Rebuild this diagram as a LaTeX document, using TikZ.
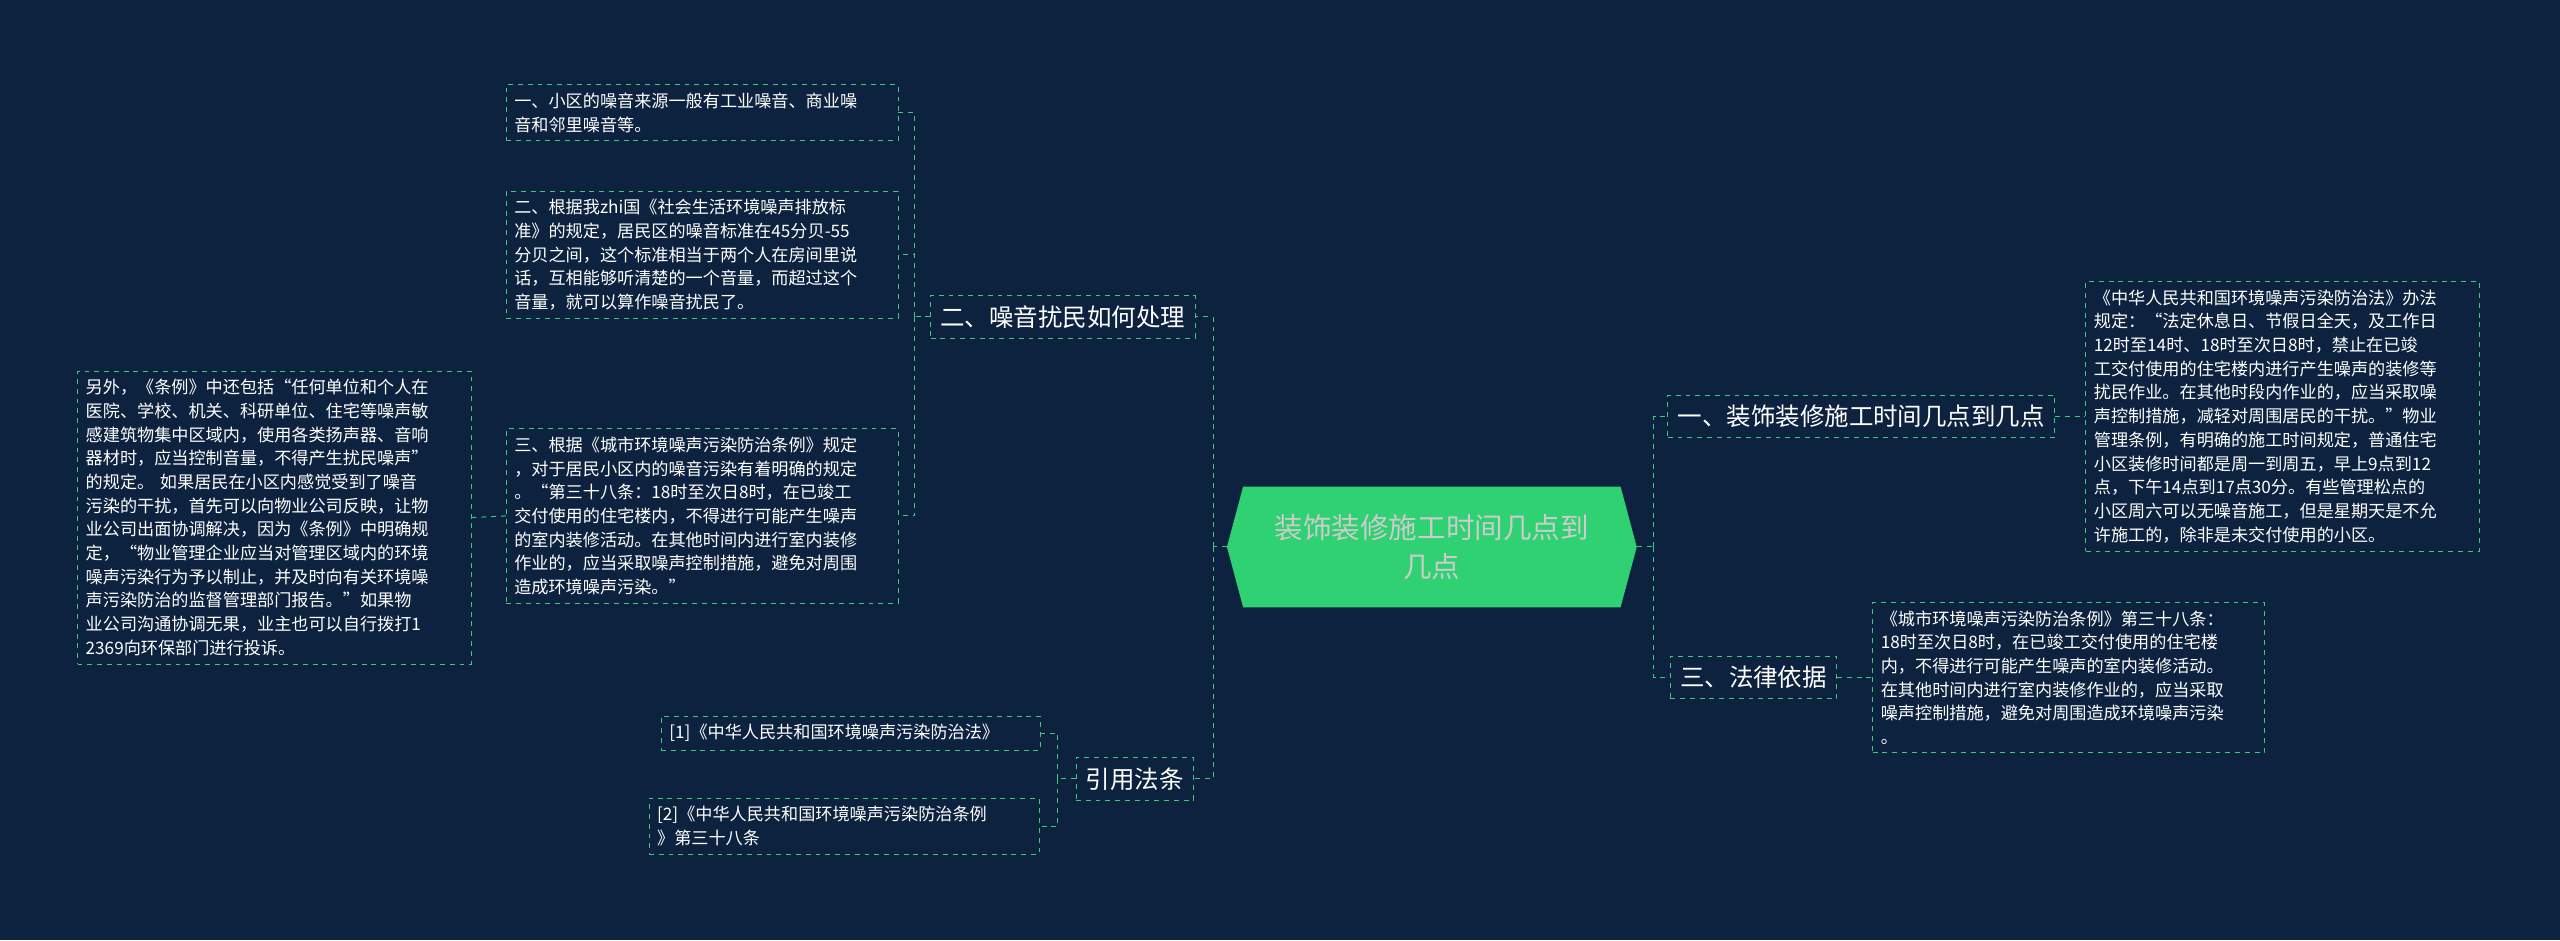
\documentclass[tikz,border=0pt]{standalone}
\usepackage{fontspec}
\setmainfont{Noto Sans CJK SC}
\usetikzlibrary{shapes.symbols,positioning}
\definecolor{bgblue}{HTML}{0C223F}
\definecolor{linegreen}{HTML}{3CC978}
\definecolor{rootgreen}{HTML}{2FD172}
\begin{document}
\begin{tikzpicture}[x=1pt,y=-1pt,
   leaf/.style={draw=linegreen, dashed, text=white, align=left, inner sep=5pt,
     font=\fontsize{10.5}{14.5}\selectfont},
   branch/.style={draw=linegreen, dashed, text=white, inner sep=6pt,
     font=\fontsize{15}{18}\selectfont},
   link/.style={draw=linegreen, dashed, semithick}]
  \fill[bgblue] (0,0) rectangle (1568,576);
  \node[signal, signal to=west and east, signal pointer angle=150, fill=rootgreen,
    minimum width=251pt, minimum height=74pt, align=center, text=white!80!black,
    font=\fontsize{17.5}{24}\selectfont] (root) at (877,335)
    {装饰装修施工时间几点到\\几点};
  % left side
  \node[branch] (noise) at (651,194) {二、噪音扰民如何处理};
  \node[branch] (laws) at (695,477) {引用法条};
  \node[leaf, text width=230pt] (n1) at (430,69)
    {一、小区的噪音来源一般有工业噪音、商业噪\\音和邻里噪音等。};
  \node[leaf, text width=230pt] (n2) at (430,156)
    {二、根据我zhi国《社会生活环境噪声排放标\\准》的规定，居民区的噪音标准在45分贝-55\\分贝之间，这个标准相当于两个人在房间里说\\话，互相能够听清楚的一个音量，而超过这个\\音量，就可以算作噪音扰民了。};
  \node[leaf, text width=230pt] (n3) at (430,316)
    {三、根据《城市环境噪声污染防治条例》规定\\，对于居民小区内的噪音污染有着明确的规定\\。“第三十八条：18时至次日8时，在已竣工\\交付使用的住宅楼内，不得进行可能产生噪声\\的室内装修活动。在其他时间内进行室内装修\\作业的，应当采取噪声控制措施，避免对周围\\造成环境噪声污染。”};
  \node[leaf, text width=231pt] (n3a) at (168,317)
    {另外，《条例》中还包括“任何单位和个人在\\医院、学校、机关、科研单位、住宅等噪声敏\\感建筑物集中区域内，使用各类扬声器、音响\\器材时，应当控制音量，不得产生扰民噪声”\\的规定。 如果居民在小区内感觉受到了噪音\\污染的干扰，首先可以向物业公司反映，让物\\业公司出面协调解决，因为《条例》中明确规\\定，“物业管理企业应当对管理区域内的环境\\噪声污染行为予以制止，并及时向有关环境噪\\声污染防治的监督管理部门报告。”如果物\\业公司沟通协调无果，业主也可以自行拨打1\\2369向环保部门进行投诉。};
  \node[leaf, text width=222pt] (r1) at (521,449) {[1]《中华人民共和国环境噪声污染防治法》};
  \node[leaf, text width=229pt] (r2) at (517,506)
    {[2]《中华人民共和国环境噪声污染防治条例\\》第三十八条};
  % right side
  \node[branch] (time) at (1140,255) {一、装饰装修施工时间几点到几点};
  \node[branch] (basis) at (1074,415) {三、法律依据};
  \node[leaf, text width=231pt] (t1) at (1398,255)
    {《中华人民共和国环境噪声污染防治法》办法\\规定：“法定休息日、节假日全天，及工作日\\12时至14时、18时至次日8时，禁止在已竣\\工交付使用的住宅楼内进行产生噪声的装修等\\扰民作业。在其他时段内作业的，应当采取噪\\声控制措施，减轻对周围居民的干扰。”物业\\管理条例，有明确的施工时间规定，普通住宅\\小区装修时间都是周一到周五，早上9点到12\\点，下午14点到17点30分。有些管理松点的\\小区周六可以无噪音施工，但是星期天是不允\\许施工的，除非是未交付使用的小区。};
  \node[leaf, text width=230pt] (b1) at (1267,415)
    {《城市环境噪声污染防治条例》第三十八条：\\18时至次日8时，在已竣工交付使用的住宅楼\\内，不得进行可能产生噪声的室内装修活动。\\在其他时间内进行室内装修作业的，应当采取\\噪声控制措施，避免对周围造成环境噪声污染\\。};
  % connectors
  \coordinate (lt) at (743,335);
  \coordinate (rt) at (1013,335);
  \coordinate (nb) at (560,194);
  \coordinate (lb) at (648,477);
  \draw[link] (root.west) -- (lt) (lt) |- (noise.east) (lt) |- (laws.east);
  \draw[link] (root.east) -- (rt) (rt) |- (time.west) (rt) |- (basis.west);
  \draw[link] (noise.west) -- (nb) (nb) |- (n1.east) (nb) |- (n2.east) (nb) |- (n3.east);
  \draw[link] (n3.west) -- (n3a.east);
  \draw[link] (laws.west) -- (lb) (lb) |- (r1.east) (lb) |- (r2.east);
  \draw[link] (time.east) -- (t1.west);
  \draw[link] (basis.east) -- (b1.west);
\end{tikzpicture}
\end{document}
